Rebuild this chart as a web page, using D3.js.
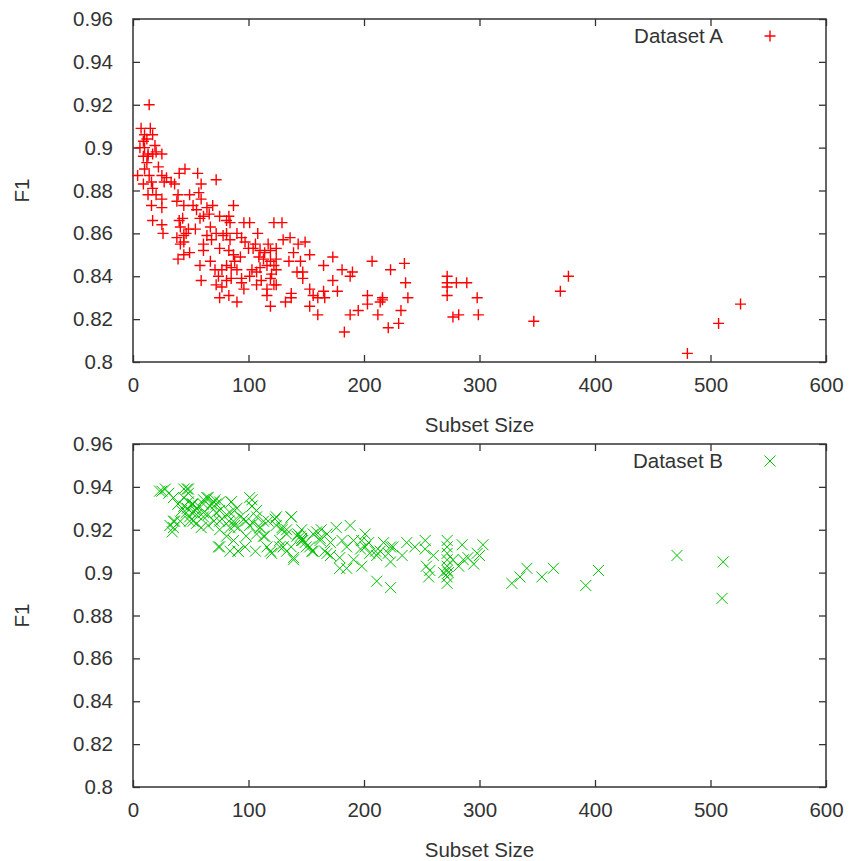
<!DOCTYPE html>
<html>
<head>
<meta charset="utf-8">
<script src="https://cdn.jsdelivr.net/npm/d3@7"></script>
<style>
  body { margin: 0; background: #fff; }
  text { font-family: "Liberation Sans", Arial, sans-serif; fill: #333; }
</style>
</head>
<body>
<div id="chart"></div>
<script>
// x ticks / y ticks shared by both panels
const xTicks = [0, 100, 200, 300, 400, 500, 600];
const yTicks = [0.8, 0.82, 0.84, 0.86, 0.88, 0.9, 0.92, 0.94, 0.96];
const yTickLabels = ["0.8", "0.82", "0.84", "0.86", "0.88", "0.9", "0.92", "0.94", "0.96"];

// Dataset A: subset size / F1
const aSize = [14,7,15,10,17,12,9,6,10,19,20,13,17,25,9,13,12,10,22,4,14,25,29,9,16,17,27,40,45,56,72,59,13,20,25,36,33,16,25,
  17,25,26,
  39,49,57,59,38,44,52,55,64,69,66,87,58,61,40,43,75,83,84,81,96,101,122,129,41,48,54,67,72,81,90,108,38,44,46,64,68,78,84,94,97,106,117,130,136,143,149,41,44,61,75,83,100,104,110,114,119,124,139,153,39,49,61,44,87,93,88,109,113,119,124,135,145,165,58,67,71,77,81,85,90,103,110,116,122,124,120,142,147,147,59,74,81,85,94,101,107,111,119,122,107,124,72,77,94,96,75,83,90,116,116,119,132,137,137,153,156,165,160,166,153,160,
  173,181,190,188,207,223,235,173,236,177,203,203,216,214,216,238,232,188,195,212,221,230,183,272,272,272,272,280,289,298,277,282,299,347,370,377,480,507,526];
const aF1 = [0.920,0.909,0.909,0.906,0.906,0.904,0.903,0.900,0.900,0.901,0.898,0.897,0.897,0.897,0.896,0.896,0.893,0.890,0.891,0.887,0.887,0.887,0.886,0.883,0.884,0.881,0.884,0.888,0.890,0.888,0.885,0.883,0.878,0.878,0.876,0.883,0.884,0.873,0.872,
  0.866,0.864,0.860,
  0.878,0.878,0.879,0.876,0.875,0.873,0.873,0.871,0.872,0.873,0.869,0.873,0.867,0.868,0.866,0.867,0.868,0.868,0.865,0.866,0.865,0.865,0.865,0.865,0.863,0.862,0.862,0.863,0.860,0.860,0.860,0.860,0.858,0.859,0.860,0.859,0.857,0.859,0.857,0.858,0.856,0.855,0.855,0.857,0.858,0.855,0.856,0.855,0.856,0.855,0.853,0.852,0.853,0.853,0.852,0.851,0.852,0.853,0.851,0.850,0.848,0.851,0.852,0.850,0.850,0.849,0.847,0.849,0.848,0.847,0.848,0.847,0.847,0.845,0.845,0.847,0.843,0.843,0.845,0.844,0.843,0.843,0.844,0.845,0.845,0.843,0.841,0.842,0.842,0.839,0.838,0.840,0.838,0.839,0.839,0.840,0.842,0.838,0.839,0.836,0.836,0.836,0.836,0.835,0.837,0.834,0.830,0.831,0.828,0.834,0.831,0.826,0.828,0.832,0.830,0.834,0.831,0.833,0.830,0.830,0.826,0.822,
  0.849,0.843,0.842,0.840,0.847,0.843,0.846,0.838,0.837,0.833,0.831,0.827,0.830,0.828,0.829,0.830,0.824,0.822,0.824,0.822,0.816,0.818,0.814,0.840,0.837,0.835,0.831,0.837,0.837,0.830,0.821,0.822,0.822,0.819,0.833,0.840,0.804,0.818,0.827];

// Dataset B: subset size / F1
const bSize = [328,335,341,354,364,392,403,471,511,510,
  25,31,28,35,47,48,44,39,42,47,51,54,57,61,64,70,72,67,75,36,35,41,49,55,59,65,70,75,55,61,51,85,88,81,93,87,84,91,75,81,87,75,91,97,103,103,107,98,104,110,107,113,117,123,116,120,127,130,133,139,137,129,133,145,146,150,156,159,162,32,
  23,44,48,39,44,48,52,55,46,49,61,65,68,71,75,61,65,72,77,84,85,90,83,88,96,101,103,107,101,110,98,114,113,124,124,129,133,137,142,74,84,91,106,119,127,137,52,35,34,
  146,147,149,153,155,146,163,168,162,171,166,171,168,156,176,188,181,191,185,179,179,185,191,198,201,198,204,197,201,205,211,210,217,223,225,221,223,214,211,223,233,237,244,253,253,260,254,257,256,269,272,272,272,272,272,272,272,272,273,285,286,290,295,300,303,298,277,282,
  139,143];
const bF1 = [0.895,0.898,0.902,0.898,0.902,0.894,0.901,0.908,0.905,0.888,
  0.938,0.937,0.939,0.935,0.939,0.937,0.935,0.932,0.929,0.930,0.932,0.929,0.931,0.932,0.935,0.933,0.932,0.931,0.929,0.924,0.921,0.924,0.924,0.923,0.921,0.922,0.924,0.924,0.927,0.926,0.928,0.933,0.929,0.927,0.926,0.924,0.921,0.921,0.920,0.917,0.915,0.912,0.910,0.912,0.934,0.931,0.929,0.924,0.923,0.921,0.918,0.917,0.924,0.925,0.912,0.909,0.915,0.912,0.910,0.907,0.926,0.921,0.920,0.917,0.915,0.912,0.910,0.919,0.915,0.922,
  0.938,0.939,0.939,0.932,0.931,0.933,0.932,0.930,0.928,0.926,0.934,0.935,0.932,0.934,0.933,0.928,0.927,0.928,0.925,0.928,0.933,0.930,0.924,0.922,0.925,0.935,0.931,0.926,0.922,0.921,0.917,0.917,0.924,0.926,0.922,0.920,0.918,0.926,0.917,0.912,0.910,0.910,0.910,0.910,0.912,0.912,0.924,0.924,0.919,
  0.920,0.915,0.914,0.912,0.910,0.916,0.920,0.918,0.916,0.914,0.910,0.908,0.909,0.918,0.921,0.922,0.915,0.915,0.912,0.907,0.902,0.902,0.906,0.903,0.918,0.915,0.914,0.911,0.912,0.909,0.908,0.910,0.914,0.912,0.912,0.909,0.905,0.910,0.896,0.893,0.908,0.914,0.912,0.915,0.911,0.908,0.903,0.901,0.898,0.900,0.915,0.912,0.909,0.906,0.903,0.901,0.898,0.895,0.900,0.913,0.906,0.907,0.904,0.908,0.913,0.909,0.906,0.903,
  0.906,0.918];

const W = 849, H = 861;
const FS = "20.5px";
const svg = d3.select("#chart").append("svg").attr("width", W).attr("height", H);

function drawPanel(top, sizes, f1s, name, color, shape) {
    const left = 133, right = 826, bottom = top + 343;
    const x = d3.scaleLinear().domain([0, 600]).range([left, right]);
    const y = d3.scaleLinear().domain([0.8, 0.96]).range([bottom, top]);
    const g = svg.append("g");

    // ticks on all four sides, pointing in
    g.append("g").attr("transform", `translate(0,${bottom})`)
        .call(d3.axisBottom(x).tickValues(xTicks).tickSize(-7).tickSizeOuter(0).tickPadding(15));
    g.append("g").attr("transform", `translate(0,${top})`)
        .call(d3.axisTop(x).tickValues(xTicks).tickSize(-7).tickSizeOuter(0).tickFormat(""));
    g.append("g").attr("transform", `translate(${left},0)`)
        .call(d3.axisLeft(y).tickValues(yTicks).tickSize(-7).tickSizeOuter(0).tickPadding(20)
            .tickFormat((d, i) => yTickLabels[i]));
    g.append("g").attr("transform", `translate(${right},0)`)
        .call(d3.axisRight(y).tickValues(yTicks).tickSize(-7).tickSizeOuter(0).tickFormat(""));
    g.selectAll(".domain").remove();
    g.selectAll(".tick line").attr("stroke", "#333").attr("stroke-width", 1.3);
    g.selectAll(".tick text").style("font-size", FS).attr("fill", "#3a3a3a")
        .style("font-family", "Liberation Sans, Arial, sans-serif");

    g.append("rect").attr("x", left).attr("y", top)
        .attr("width", right - left).attr("height", bottom - top)
        .attr("fill", "none").attr("stroke", "#333").attr("stroke-width", 1.5);

    // axis titles
    g.append("text").attr("x", (left + right) / 2).attr("y", bottom + 70)
        .attr("text-anchor", "middle").style("font-size", FS).text("Subset Size");
    g.append("text").attr("transform", `translate(29,${(top + bottom) / 2}) rotate(-90)`)
        .attr("text-anchor", "middle").style("font-size", FS).text("F1");

    const s = 5.5;
    const markPath = shape === "plus"
        ? `M${-s},0H${s}M0,${-s}V${s}`
        : `M${-s},${-s}L${s},${s}M${-s},${s}L${s},${-s}`;
    const sw = shape === "plus" ? 1.4 : 1;

    g.append("g").selectAll("path").data(sizes)
        .join("path")
        .attr("transform", (d, i) => `translate(${x(d)},${y(f1s[i])})`)
        .attr("d", markPath)
        .attr("fill", "none")
        .attr("stroke", color)
        .attr("stroke-width", sw);

    // key
    g.append("text").attr("x", 723).attr("y", top + 24)
        .attr("text-anchor", "end").style("font-size", FS).text(name);
    g.append("path").attr("transform", `translate(770,${top + 17})`)
        .attr("d", markPath).attr("fill", "none").attr("stroke", color)
        .attr("stroke-width", sw);
}

drawPanel(19, aSize, aF1, "Dataset A", "#ff0000", "plus");
drawPanel(444, bSize, bF1, "Dataset B", "#00c000", "cross");
</script>
</body>
</html>
